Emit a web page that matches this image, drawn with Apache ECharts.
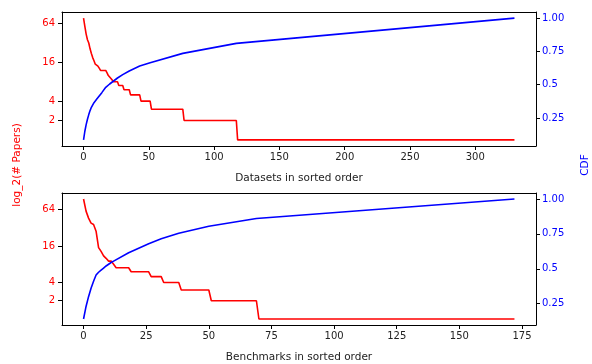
<!DOCTYPE html>
<html>
<head>
<meta charset="utf-8">
<script src="https://cdn.jsdelivr.net/npm/echarts@6/dist/echarts.min.js"></script>
<style>
  html, body { margin: 0; padding: 0; background: #fff; }
  #chart { width: 592px; height: 364px; }
</style>
</head>
<body>
<div id="chart"></div>
<script>
// papers per dataset, sorted (break points of the line)
var dsIdx    = [0, 1, 2, 3, 4, 5, 6, 7, 8, 9, 10, 11, 12, 13, 17, 18, 19, 20, 21, 22, 23, 26, 27, 30, 31, 35, 36, 43, 44, 51, 52, 76, 77, 117, 118, 330];
var dsPapers = [78, 58, 44, 36, 32, 26, 22, 19, 17, 15, 15, 14, 13, 12, 12, 11, 10, 10, 9, 9, 8, 8, 7, 7, 6, 6, 5, 5, 4, 4, 3, 3, 2, 2, 1, 1];
var dsCdfIdx = [0, 1, 2, 3, 4, 5, 6, 8, 10, 12, 14, 17, 20, 22, 26, 30, 35, 43, 51, 76, 117, 330];
var dsCdf    = [0.085, 0.15, 0.20, 0.24, 0.275, 0.305, 0.33, 0.365, 0.39, 0.415, 0.44, 0.48, 0.505, 0.52, 0.55, 0.575, 0.603, 0.64, 0.665, 0.735, 0.81, 1.0];

// papers per benchmark, sorted
var bmIdx    = [0, 1, 2, 3, 4, 5, 6, 7, 8, 9, 10, 11, 12, 13, 18, 19, 26, 27, 31, 32, 38, 39, 50, 51, 69, 70, 172];
var bmPapers = [95, 60, 46, 38, 36, 28, 15, 13, 11, 10, 9, 9, 8, 7, 7, 6, 6, 5, 5, 4, 4, 3, 3, 2, 2, 1, 1];
var bmCdfIdx = [0, 1, 2, 3, 4, 5, 6, 7, 8, 9, 11, 12, 18, 26, 31, 38, 50, 69, 172];
var bmCdf    = [0.14, 0.23, 0.30, 0.36, 0.41, 0.455, 0.475, 0.49, 0.505, 0.52, 0.545, 0.555, 0.615, 0.68, 0.715, 0.755, 0.805, 0.86, 1.0];

var leftTicks = [1, 2, 4, 6];          // log2 positions -> 2, 4, 16, 64
var rightTicks = [0.25, 0.5, 0.75, 1];
var rightLabels = ['0.25', '0.5', '0.75', '1.00'];
var dsXTicks = [0, 50, 100, 150, 200, 250, 300];
var bmXTicks = [0, 25, 50, 75, 100, 125, 150, 175];

var FONT = 'DejaVu Sans';

function pairs(xs, ys, f) {
    return xs.map(function (x, i) { return [x, f ? f(ys[i]) : ys[i]]; });
}
// matplotlib style 5% padding
function pad(lo, hi) {
    var d = (hi - lo) * 0.05;
    return [lo - d, hi + d];
}
function axisLine() {
    return { show: true, onZero: false, lineStyle: { color: '#000', width: 1 } };
}
function tick(values) {
    return { show: true, inside: false, length: 4, lineStyle: { color: '#000', width: 1 }, customValues: values };
}

var chart = echarts.init(document.getElementById('chart'));

function xAxisOf(grid, idx, ticks, name) {
    var r = pad(0, idx[idx.length - 1]);
    return {
        type: 'value', gridIndex: grid, min: r[0], max: r[1], position: 'bottom',
        name: name, nameLocation: 'middle', nameGap: 27,
        nameTextStyle: { color: '#222', fontFamily: FONT, fontSize: 10.5 },
        axisLine: axisLine(),
        axisTick: tick(ticks),
        axisLabel: { color: '#222', fontFamily: FONT, fontSize: 10, margin: 6, customValues: ticks },
        splitLine: { show: false }
    };
}
// plain top edge of the frame
function topAxisOf(grid, idx) {
    var r = pad(0, idx[idx.length - 1]);
    return {
        type: 'value', gridIndex: grid, min: r[0], max: r[1], position: 'top',
        axisLine: axisLine(), axisTick: { show: false }, axisLabel: { show: false }, splitLine: { show: false }
    };
}
function leftAxisOf(grid, papers) {
    var r = pad(0, Math.log2(Math.max.apply(null, papers)));
    return {
        type: 'value', gridIndex: grid, min: r[0], max: r[1], position: 'left',
        axisLine: axisLine(),
        axisTick: tick(leftTicks),
        axisLabel: {
            color: 'red', fontFamily: FONT, fontSize: 10, margin: 7, customValues: leftTicks,
            formatter: function (v) { return String(Math.round(Math.pow(2, v))); }
        },
        splitLine: { show: false }
    };
}
function rightAxisOf(grid, cdf) {
    var r = pad(cdf[0], 1);
    return {
        type: 'value', gridIndex: grid, min: r[0], max: r[1], position: 'right',
        axisLine: axisLine(),
        axisTick: tick(rightTicks),
        axisLabel: {
            color: 'blue', fontFamily: FONT, fontSize: 10, margin: 6, customValues: rightTicks,
            formatter: function (v) { return rightLabels[rightTicks.indexOf(v)]; }
        },
        splitLine: { show: false }
    };
}

var option = {
    animation: false,
    backgroundColor: '#fff',
    grid: [
        { left: 62, right: 56, top: 12, height: 134 },
        { left: 62, right: 56, top: 193, height: 134 }
    ],
    xAxis: [
        xAxisOf(0, dsIdx, dsXTicks, 'Datasets in sorted order'),
        xAxisOf(1, bmIdx, bmXTicks, 'Benchmarks in sorted order'),
        topAxisOf(0, dsIdx),
        topAxisOf(1, bmIdx)
    ],
    yAxis: [
        leftAxisOf(0, dsPapers),
        rightAxisOf(0, dsCdf),
        leftAxisOf(1, bmPapers),
        rightAxisOf(1, bmCdf)
    ],
    graphic: [
        {
            type: 'text', x: 17, y: 165, rotation: Math.PI / 2,
            style: { text: 'log_2(# Papers)', fill: 'red', font: '10.5px "DejaVu Sans"', align: 'center', verticalAlign: 'middle' }
        },
        {
            type: 'text', x: 585, y: 165, rotation: Math.PI / 2,
            style: { text: 'CDF', fill: 'blue', font: '10.5px "DejaVu Sans"', align: 'center', verticalAlign: 'middle' }
        }
    ],
    series: [
        {
            type: 'line', xAxisIndex: 0, yAxisIndex: 0, showSymbol: false,
            lineStyle: { color: '#ff0000', width: 1.6 },
            data: pairs(dsIdx, dsPapers, Math.log2)
        },
        {
            type: 'line', xAxisIndex: 0, yAxisIndex: 1, showSymbol: false,
            lineStyle: { color: '#0000ff', width: 1.6 },
            data: pairs(dsCdfIdx, dsCdf)
        },
        {
            type: 'line', xAxisIndex: 1, yAxisIndex: 2, showSymbol: false,
            lineStyle: { color: '#ff0000', width: 1.6 },
            data: pairs(bmIdx, bmPapers, Math.log2)
        },
        {
            type: 'line', xAxisIndex: 1, yAxisIndex: 3, showSymbol: false,
            lineStyle: { color: '#0000ff', width: 1.6 },
            data: pairs(bmCdfIdx, bmCdf)
        }
    ]
};

chart.setOption(option);
</script>
</body>
</html>
